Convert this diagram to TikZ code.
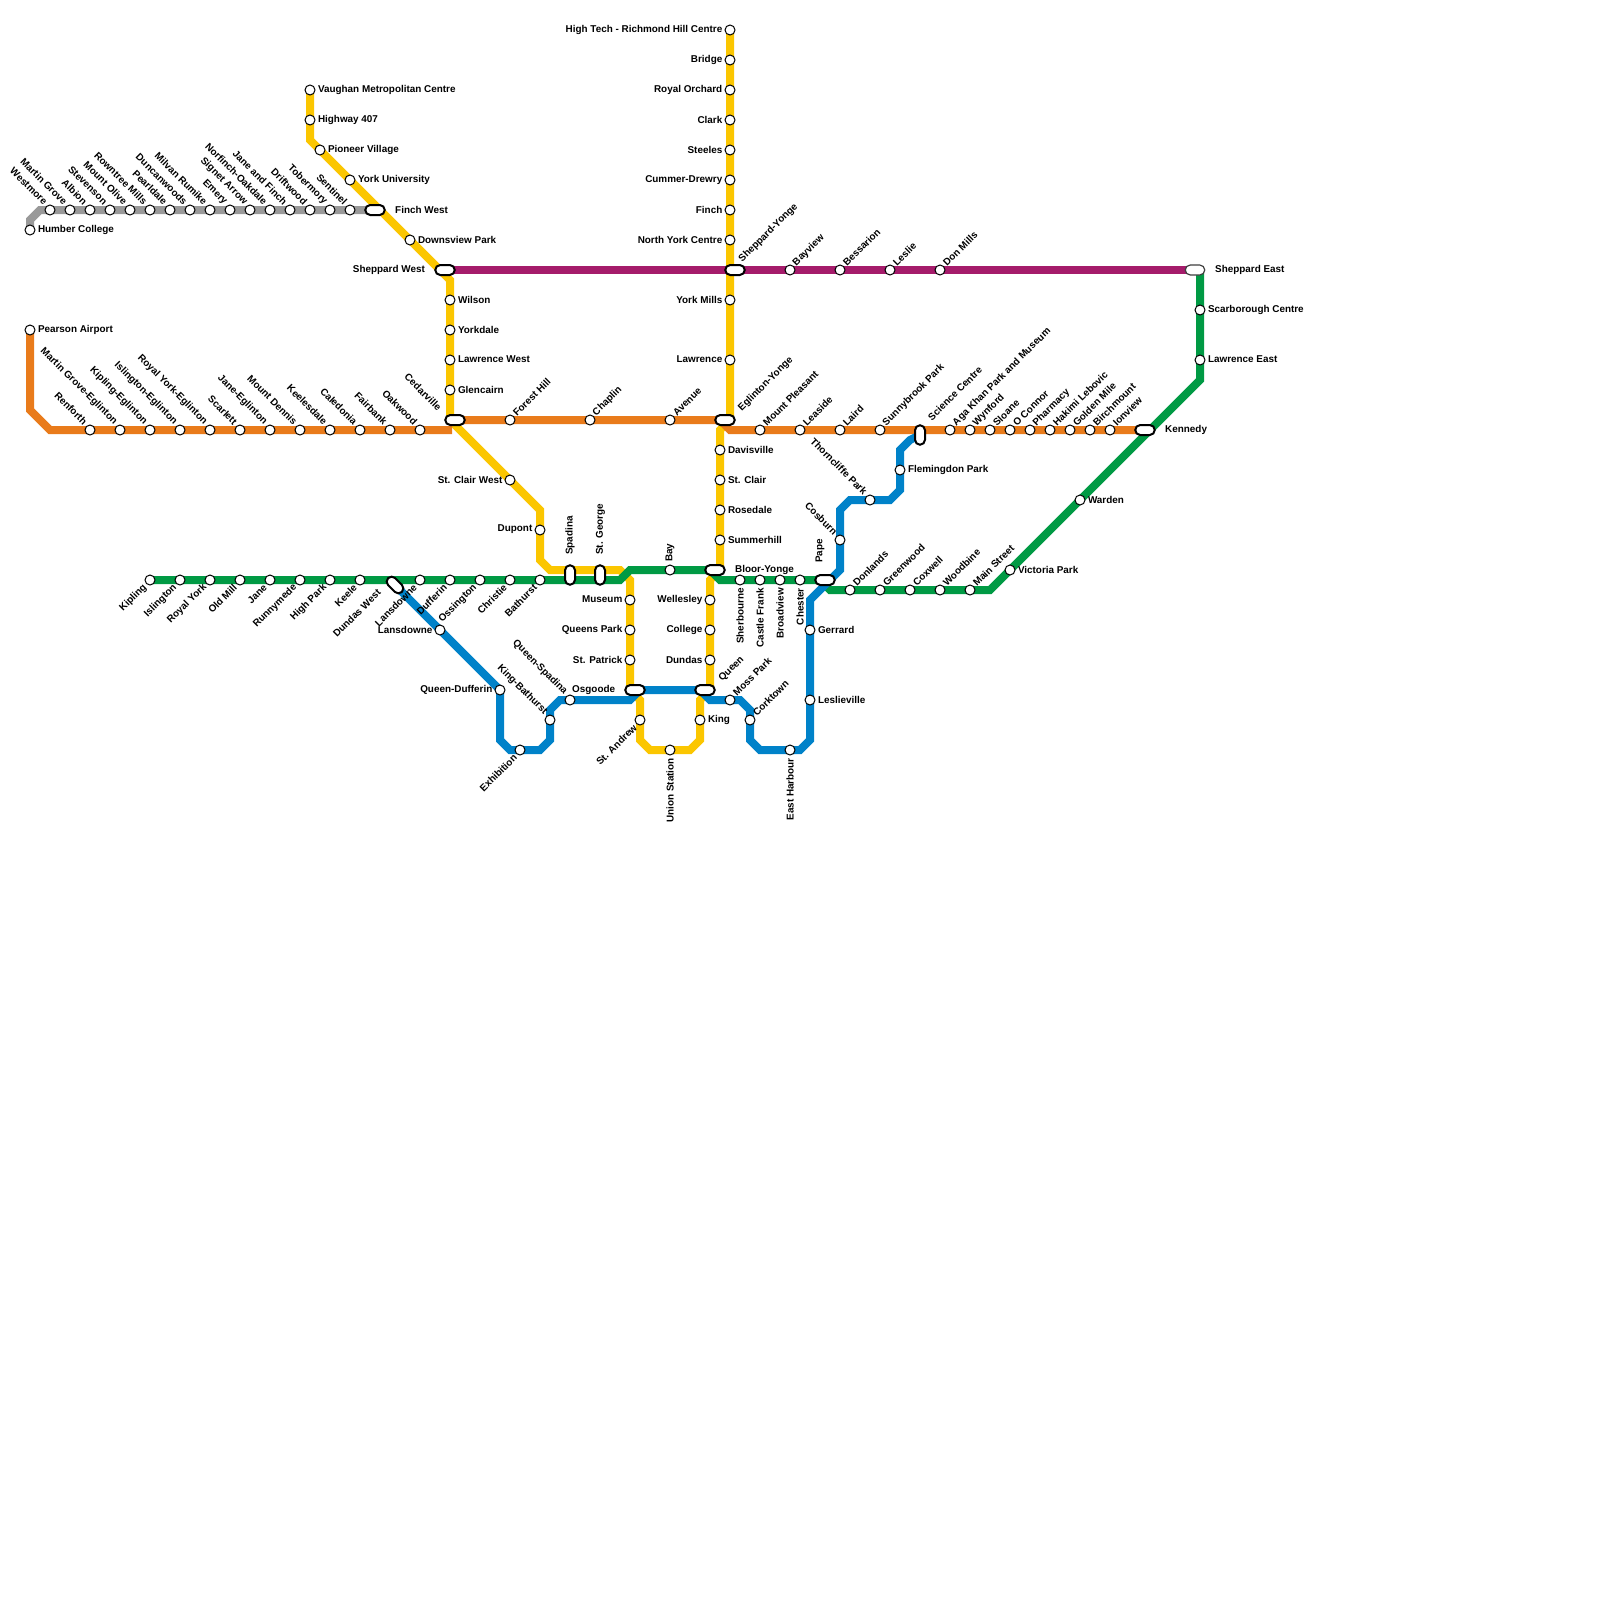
\documentclass[tikz,border=0pt]{standalone}
\usepackage{fontspec}
\setmainfont{Liberation Sans}
\usetikzlibrary{backgrounds}
\definecolor{grayline}{HTML}{999999}
\definecolor{orangeline}{HTML}{E97B1B}
\definecolor{yellowline}{HTML}{FBC600}
\definecolor{purpleline}{HTML}{A51C6B}
\definecolor{greenline}{HTML}{009A44}
\definecolor{blueline}{HTML}{0082C9}
\tikzset{
  stn/.style={circle,draw=black,fill=white,line width=1pt,minimum size=10pt,inner sep=0pt,outer sep=0pt},
  pill/.style={rectangle,rounded corners=5pt,draw=black,fill=white,line width=2pt,minimum width=19.5pt,minimum height=10pt,inner sep=0pt},
  txt/.style={inner sep=0pt,font=\fontsize{9.9}{10}\selectfont\bfseries,text=black},
  lr/.style={txt,anchor=west,xshift=2.8pt,yshift=0.4pt},
  ll/.style={txt,anchor=east,xshift=-2.5pt,yshift=0.4pt},
  lne/.style={xshift=1pt,yshift=2.1pt,txt,rotate=45,anchor=west},
  lnw/.style={xshift=-0.8pt,yshift=3.3pt,txt,rotate=-45,anchor=east},
  lsw/.style={xshift=-1.2pt,yshift=-2.4pt,txt,rotate=45,anchor=east},
  lup/.style={yshift=3pt,txt,rotate=90,anchor=west},
  ldn/.style={yshift=-3pt,txt,rotate=90,anchor=east},
  lrp/.style={txt,anchor=west},
  llp/.style={txt,anchor=east},
  lnep/.style={txt,rotate=45,anchor=west},
  lnwp/.style={txt,rotate=-45,anchor=east},
  lswp/.style={txt,rotate=45,anchor=east},
  lupp/.style={txt,rotate=90,anchor=west},
  route/.style={line width=8pt}
}
\begin{document}
\begin{tikzpicture}[x=1pt,y=-1pt]
\useasboundingbox (0,0) rectangle (1600,1600);
% interchanges
\node[pill] (finchwest) at (375,210) {};
\node[pill] (shepwest) at (445,270) {};
\node[pill] (cedarville) at (455,420) {};
\node[pill] (shepyonge) at (735,270) {};
\node[pill] (egyonge) at (725,420) {};
\node[pill] (bloor) at (715,570) {};
\node[pill] (pape) at (825,580) {};
\node[pill] (osgoode) at (635,690) {};
\node[pill] (queen) at (705,690) {};
\node[pill] (kennedy) at (1145,430) {};
\node[pill,draw=black!75,line width=1.2pt] (shepeast) at (1195,270) {};
\node[pill,rotate=90] (spadina) at (570,575) {};
\node[pill,rotate=90] (stgeorge) at (600,575) {};
\node[pill,rotate=90] (science) at (920,435) {};
\node[pill,rotate=-45] (dundaswest) at (395,585) {};
\node[lrp] (finchwestl) at (395,209.5) {Finch West};
\node[llp] (shepwestl) at (425,269.5) {Sheppard West};
\node[lnwp] (cedarvillel) at (440,409) {Cedarville};
\node[lnep] (shepyongel) at (740.5,261) {Sheppard-Yonge};
\node[lnep] (egyongel) at (740,410) {Eglinton-Yonge};
\node[lrp] (bloorl) at (735,569.5) {Bloor-Yonge};
\node[lupp] (papel) at (820,563) {Pape};
\node[lrp] (osgoodel) at (572,689.5) {Osgoode};
\node[lnep] (queenl) at (720.5,680) {Queen};
\node[lrp] (kennedyl) at (1165,429.5) {Kennedy};
\node[lrp] (shepeastl) at (1215,269.5) {Sheppard East};
\node[lupp] (spadinal) at (570,555) {Spadina};
\node[lupp] (stgeorgel) at (600.5,555) {St. George};
\node[lnep] (sciencel) at (929.5,419) {Science Centre};
\node[lswp] (dundaswestl) at (379,591) {Dundas West};
% humber line
\node[stn,label={[lr]0:Humber College}] (humber) at (30,230) {};
\node[stn,label={[lnw]135:Westmore}] (westmore) at (50,210) {};
\node[stn,label={[lnw]135:Martin Grove}] (martingrove) at (70,210) {};
\node[stn,label={[lnw]135:Albion}] (albion) at (90,210) {};
\node[stn,label={[lnw]135:Stevenson}] (stevenson) at (110,210) {};
\node[stn,label={[lnw]135:Mount Olive}] (mountolive) at (130,210) {};
\node[stn,label={[lnw]135:Rowntree Mills}] (rowntree) at (150,210) {};
\node[stn,label={[lnw]135:Pearldale}] (pearldale) at (170,210) {};
\node[stn,label={[lnw]135:Duncanwoods}] (duncanwoods) at (190,210) {};
\node[stn,label={[lnw]135:Milvan Rumike}] (milvan) at (210,210) {};
\node[stn,label={[lnw]135:Emery}] (emery) at (230,210) {};
\node[stn,label={[lnw]135:Signet Arrow}] (signet) at (250,210) {};
\node[stn,label={[lnw]135:Norfinch-Oakdale}] (norfinch) at (270,210) {};
\node[stn,label={[lnw]135:Jane and Finch}] (janefinch) at (290,210) {};
\node[stn,label={[lnw]135:Driftwood}] (driftwood) at (310,210) {};
\node[stn,label={[lnw]135:Tobermory}] (tobermory) at (330,210) {};
\node[stn,label={[lnw]135:Sentinel}] (sentinel) at (350,210) {};
% eglinton line
\node[stn,label={[lr]0:Pearson Airport}] (pearson) at (30,330) {};
\node[stn,label={[lnw]135:Renforth}] (renforth) at (90,430) {};
\node[stn,label={[lnw]135:Martin Grove-Eglinton}] (mgeglinton) at (120,430) {};
\node[stn,label={[lnw]135:Kipling-Eglinton}] (kipeglinton) at (150,430) {};
\node[stn,label={[lnw]135:Islington-Eglinton}] (isleglinton) at (180,430) {};
\node[stn,label={[lnw]135:Royal York-Eglinton}] (ryeglinton) at (210,430) {};
\node[stn,label={[lnw]135:Scarlett}] (scarlett) at (240,430) {};
\node[stn,label={[lnw]135:Jane-Eglinton}] (janeeglinton) at (270,430) {};
\node[stn,label={[lnw]135:Mount Dennis}] (mountdennis) at (300,430) {};
\node[stn,label={[lnw]135:Keelesdale}] (keelesdale) at (330,430) {};
\node[stn,label={[lnw]135:Caledonia}] (caledonia) at (360,430) {};
\node[stn,label={[lnw]135:Fairbank}] (fairbank) at (390,430) {};
\node[stn,label={[lnw]135:Oakwood}] (oakwood) at (420,430) {};
\node[stn,label={[lne]45:Forest Hill}] (foresthill) at (510,420) {};
\node[stn,label={[lne]45:Chaplin}] (chaplin) at (590,420) {};
\node[stn,label={[lne]45:Avenue}] (avenue) at (670,420) {};
\node[stn,label={[lne]45:Mount Pleasant}] (mtpleasant) at (760,430) {};
\node[stn,label={[lne]45:Leaside}] (leaside) at (800,430) {};
\node[stn,label={[lne]45:Laird}] (laird) at (840,430) {};
\node[stn,label={[lne]45:Sunnybrook Park}] (sunnybrook) at (880,430) {};
\node[stn,label={[lne]45:Aga Khan Park and Museum}] (agakhan) at (950,430) {};
\node[stn,label={[lne]45:Wynford}] (wynford) at (970,430) {};
\node[stn,label={[lne]45:Sloane}] (sloane) at (990,430) {};
\node[stn,label={[lne]45:O Connor}] (oconnor) at (1010,430) {};
\node[stn,label={[lne]45:Pharmacy}] (pharmacy) at (1030,430) {};
\node[stn,label={[lne]45:Hakimi Lebovic}] (hakimi) at (1050,430) {};
\node[stn,label={[lne]45:Golden Mile}] (goldenmile) at (1070,430) {};
\node[stn,label={[lne]45:Birchmount}] (birchmount) at (1090,430) {};
\node[stn,label={[lne]45:Ionview}] (ionview) at (1110,430) {};
% yonge university line
\node[stn,label={[lr]0:Vaughan Metropolitan Centre}] (vaughan) at (310,90) {};
\node[stn,label={[lr]0:Highway 407}] (highway) at (310,120) {};
\node[stn,label={[lr]0:Pioneer Village}] (pioneer) at (320,150) {};
\node[stn,label={[lr]0:York University}] (yorku) at (350,180) {};
\node[stn,label={[lr]0:Downsview Park}] (downsview) at (410,240) {};
\node[stn,label={[lr]0:Wilson}] (wilson) at (450,300) {};
\node[stn,label={[lr]0:Yorkdale}] (yorkdale) at (450,330) {};
\node[stn,label={[lr]0:Lawrence West}] (lawrencew) at (450,360) {};
\node[stn,label={[lr]0:Glencairn}] (glencairn) at (450,390) {};
\node[stn,label={[ll]180:St. Clair West}] (stclairw) at (510,480) {};
\node[stn,label={[ll]180:Dupont}] (dupont) at (540,530) {};
\node[stn,label={[ll]180:Museum}] (museum) at (630,600) {};
\node[stn,label={[ll]180:Queens Park}] (queenspark) at (630,630) {};
\node[stn,label={[ll]180:St. Patrick}] (stpatrick) at (630,660) {};
\node[stn,label={[lsw]225:St. Andrew}] (standrew) at (640,720) {};
\node[stn,label={[ldn]270:Union Station}] (union) at (670,750) {};
\node[stn,label={[lr]0:King}] (king) at (700,720) {};
\node[stn,label={[ll]180:Dundas}] (dundas) at (710,660) {};
\node[stn,label={[ll]180:College}] (college) at (710,630) {};
\node[stn,label={[ll]180:Wellesley}] (wellesley) at (710,600) {};
\node[stn,label={[lr]0:Summerhill}] (summerhill) at (720,540) {};
\node[stn,label={[lr]0:Rosedale}] (rosedale) at (720,510) {};
\node[stn,label={[lr]0:St. Clair}] (stclair) at (720,480) {};
\node[stn,label={[lr]0:Davisville}] (davisville) at (720,450) {};
\node[stn,label={[ll]180:Lawrence}] (lawrence) at (730,360) {};
\node[stn,label={[ll]180:York Mills}] (yorkmills) at (730,300) {};
\node[stn,label={[ll]180:North York Centre}] (northyork) at (730,240) {};
\node[stn,label={[ll]180:Finch}] (finch) at (730,210) {};
\node[stn,label={[ll]180:Cummer-Drewry}] (cummer) at (730,180) {};
\node[stn,label={[ll]180:Steeles}] (steeles) at (730,150) {};
\node[stn,label={[ll]180:Clark}] (clark) at (730,120) {};
\node[stn,label={[ll]180:Royal Orchard}] (royalorchard) at (730,90) {};
\node[stn,label={[ll]180:Bridge}] (bridge) at (730,60) {};
\node[stn,label={[ll]180:High Tech - Richmond Hill Centre}] (hightech) at (730,30) {};
% sheppard line
\node[stn,label={[lne]45:Bayview}] (bayview) at (790,270) {};
\node[stn,label={[lne]45:Bessarion}] (bessarion) at (840,270) {};
\node[stn,label={[lne]45:Leslie}] (leslie) at (890,270) {};
\node[stn,label={[lne]45:Don Mills}] (donmills) at (940,270) {};
% bloor line
\node[stn,label={[lsw]225:Kipling}] (kipling) at (150,580) {};
\node[stn,label={[lsw]225:Islington}] (islington) at (180,580) {};
\node[stn,label={[lsw]225:Royal York}] (royalyork) at (210,580) {};
\node[stn,label={[lsw]225:Old Mill}] (oldmill) at (240,580) {};
\node[stn,label={[lsw]225:Jane}] (jane) at (270,580) {};
\node[stn,label={[lsw]225:Runnymede}] (runnymede) at (300,580) {};
\node[stn,label={[lsw]225:High Park}] (highpark) at (330,580) {};
\node[stn,label={[lsw]225:Keele}] (keele) at (360,580) {};
\node[stn,label={[lsw]225:Lansdowne}] (lansdowne) at (420,580) {};
\node[stn,label={[lsw]225:Dufferin}] (dufferin) at (450,580) {};
\node[stn,label={[lsw]225:Ossington}] (ossington) at (480,580) {};
\node[stn,label={[lsw]225:Christie}] (christie) at (510,580) {};
\node[stn,label={[lsw]225:Bathurst}] (bathurst) at (540,580) {};
\node[stn,label={[lup]90:Bay}] (bay) at (670,570) {};
\node[stn,label={[ldn]270:Sherbourne}] (sherbourne) at (740,580) {};
\node[stn,label={[ldn]270:Castle Frank}] (castlefrank) at (760,580) {};
\node[stn,label={[ldn]270:Broadview}] (broadview) at (780,580) {};
\node[stn,label={[ldn]270:Chester}] (chester) at (800,580) {};
\node[stn,label={[lne]45:Donlands}] (donlands) at (850,590) {};
\node[stn,label={[lne]45:Greenwood}] (greenwood) at (880,590) {};
\node[stn,label={[lne]45:Coxwell}] (coxwell) at (910,590) {};
\node[stn,label={[lne]45:Woodbine}] (woodbine) at (940,590) {};
\node[stn,label={[lne]45:Main Street}] (mainstreet) at (970,590) {};
\node[stn,label={[lr]0:Victoria Park}] (victoriapark) at (1010,570) {};
\node[stn,label={[lr]0:Warden}] (warden) at (1080,500) {};
\node[stn,label={[lr]0:Lawrence East}] (lawrencee) at (1200,360) {};
\node[stn,label={[lr]0:Scarborough Centre}] (scarborough) at (1200,310) {};
% queen line
\node[stn,label={[ll]180:Lansdowne}] (lansdowneq) at (440,630) {};
\node[stn,label={[ll]180:Queen-Dufferin}] (qdufferin) at (500,690) {};
\node[stn,label={[lsw]225:Exhibition}] (exhibition) at (520,750) {};
\node[stn,label={[lnw]135:King-Bathurst}] (kingbathurst) at (550,720) {};
\node[stn,label={[lnw]135:Queen-Spadina}] (qspadina) at (570,700) {};
\node[stn,label={[lne]45:Moss Park}] (mosspark) at (730,700) {};
\node[stn,label={[lne]45:Corktown}] (corktown) at (750,720) {};
\node[stn,label={[ldn]270:East Harbour}] (eastharbour) at (790,750) {};
\node[stn,label={[lr]0:Leslieville}] (leslieville) at (810,700) {};
\node[stn,label={[lr]0:Gerrard}] (gerrard) at (810,630) {};
\node[stn,label={[lnw]135:Cosburn}] (cosburn) at (840,540) {};
\node[stn,label={[lnw]135:Thorncliffe Park}] (thorncliffe) at (870,500) {};
\node[stn,label={[lr]0:Flemingdon Park}] (flemingdon) at (900,470) {};
% lines under the stations
\begin{scope}[on background layer]
\fill[white] (0,0) rectangle (1600,1600);
\draw[route,grayline] (humber.center) -- (30,220) -- (40,210) -- (finchwest.center);
\draw[route,purpleline] (shepwest.center) -- (shepyonge.center) -- (shepeast.center);
\draw[route,yellowline] (hightech.center) -- (730,420) -- (720,430) -- (720,570) -- (710,580) -- (710,690) -- (700,700) -- (700,740) -- (690,750) -- (650,750) -- (640,740) -- (640,700) -- (630,690) -- (630,580) -- (620,570) -- (550,570) -- (540,560) -- (540,510) -- (450,420) -- (450,280) -- (440,270) -- (310,140) -- (vaughan.center);
\draw[route,orangeline] (pearson.center) -- (30,410) -- (50,430) -- (452,430);
\draw[route,orangeline] (cedarville.center) -- (720,420) -- (730,430) -- (kennedy.center);
\draw[route,greenline] (kipling.center) -- (620,580) -- (630,570) -- (710,570) -- (720,580) -- (pape.center);
\draw[route,greenline] (820,580) -- (830,590) -- (990,590) -- (1200,380) -- (1200,270);
\draw[route,blueline] (dundaswest.center) -- (qdufferin.center) -- (500,740) -- (510,750) -- (540,750) -- (550,740) -- (550,710) -- (560,700) -- (630,700) -- (640,690) -- (700,690) -- (710,700) -- (740,700) -- (750,710) -- (750,740) -- (760,750) -- (800,750) -- (810,740) -- (810,600) -- (840,570) -- (840,510) -- (850,500) -- (890,500) -- (900,490) -- (900,450) -- (910,440) -- (science.center);
\end{scope}
\end{tikzpicture}
\end{document}
